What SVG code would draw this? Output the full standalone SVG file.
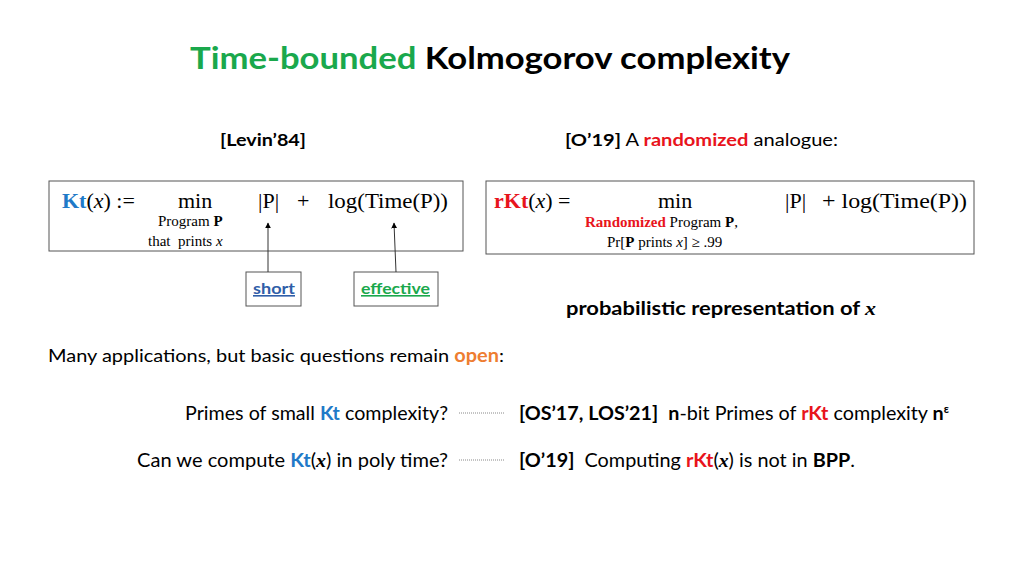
<svg xmlns="http://www.w3.org/2000/svg" width="1024" height="576" viewBox="0 0 1024 576">
<style>
.s{font-family:Lato,"Liberation Sans",sans-serif;fill:#000}
.m{font-family:"Liberation Serif",serif;fill:#000}
.b{font-weight:bold}
.blue{fill:#1f7ac8}.red{fill:#e8141c}.green{fill:#1aa84c}.orange{fill:#ee7d31}
.box{fill:#fff;stroke:#555;stroke-width:1}
.dot{stroke:#888;stroke-width:1;stroke-dasharray:1 1}
</style>
<defs><marker id="a" viewBox="0 0 10 10" refX="9" refY="5" markerWidth="6" markerHeight="6" orient="auto"><path d="M0,0L10,5L0,10z" fill="#000"/></marker></defs>
<text class="s b" x="190" y="69" font-size="31" textLength="600" lengthAdjust="spacingAndGlyphs"><tspan class="green">Time-bounded</tspan> Kolmogorov complexity</text>
<text class="s b" x="220" y="146" font-size="17" textLength="86" lengthAdjust="spacingAndGlyphs">[Levin’84]</text>
<text class="s" x="565" y="146" font-size="17" textLength="273" lengthAdjust="spacingAndGlyphs"><tspan class="b">[O’19]</tspan> A <tspan class="b red">randomized</tspan> analogue:</text>
<g id="kt">
<rect class="box" x="49" y="181" width="414" height="70"/>
<text class="m" x="62" y="208" font-size="22"><tspan class="b blue">Kt</tspan>(<tspan font-style="italic">x</tspan>) :=</text>
<text class="m" x="178" y="208" font-size="22">min</text>
<text class="m" x="258" y="208" font-size="22">|P|</text>
<text class="m" x="297" y="208" font-size="22">+</text>
<text class="m" x="328" y="208" font-size="22" textLength="120" lengthAdjust="spacingAndGlyphs">log(Time(P))</text>
<text class="m" x="158" y="226" font-size="15">Program <tspan class="b">P</tspan></text>
<text class="m" x="148" y="246" font-size="15" xml:space="preserve">that  prints <tspan font-style="italic">x</tspan></text>
</g>
<g id="rkt">
<rect class="box" x="486" y="181" width="488" height="73"/>
<text class="m" x="494" y="208" font-size="22"><tspan class="b red">rKt</tspan>(<tspan font-style="italic">x</tspan>) =</text>
<text class="m" x="658" y="208" font-size="22">min</text>
<text class="m" x="785" y="208" font-size="22">|P|</text>
<text class="m" x="822" y="208" font-size="22" textLength="145" lengthAdjust="spacingAndGlyphs">+ log(Time(P))</text>
<text class="m" x="585" y="227" font-size="15"><tspan class="b red">Randomized</tspan> Program <tspan class="b">P</tspan>,</text>
<text class="m" x="607" y="247" font-size="15">Pr[<tspan class="b">P</tspan> prints <tspan font-style="italic">x</tspan>] ≥ .99</text>
</g>
<g id="short"><rect class="box" x="246" y="272" width="55" height="34"/><text class="s b" x="253" y="294" font-size="16" style="fill:#2f5ea8" text-decoration="underline" textLength="42" lengthAdjust="spacingAndGlyphs">short</text></g>
<g id="effective"><rect class="box" x="354" y="272" width="84" height="34"/><text class="s b green" x="361" y="294" font-size="16" text-decoration="underline" textLength="69" lengthAdjust="spacingAndGlyphs">effective</text></g>
<g id="connectors">
<line x1="268" y1="272" x2="268" y2="223" stroke="#333" marker-end="url(#a)"/>
<line x1="396" y1="272" x2="394" y2="223" stroke="#333" marker-end="url(#a)"/>
<line class="dot" x1="459" y1="413" x2="504" y2="413"/>
<line class="dot" x1="459" y1="460" x2="504" y2="460"/>
</g>
<text class="s b" x="566" y="315" font-size="19" textLength="310" lengthAdjust="spacingAndGlyphs">probabilistic representation of <tspan class="m" font-style="italic">x</tspan></text>
<text class="s" x="48" y="362" font-size="18" textLength="456" lengthAdjust="spacingAndGlyphs">Many applications, but basic questions remain <tspan class="b orange">open</tspan>:</text>
<text class="s" x="185" y="420" font-size="19" textLength="263" lengthAdjust="spacingAndGlyphs">Primes of small <tspan class="b blue">Kt</tspan> complexity?</text>
<text class="s" x="137" y="467" font-size="19" textLength="311" lengthAdjust="spacingAndGlyphs">Can we compute <tspan class="b blue">Kt</tspan>(<tspan class="m b" font-style="italic">x</tspan>) in poly time?</text>
<text class="s" x="519" y="420" font-size="19" textLength="430" lengthAdjust="spacingAndGlyphs" xml:space="preserve"><tspan class="b">[OS’17, LOS’21]</tspan>  <tspan class="b">n</tspan>-bit Primes of <tspan class="b red">rKt</tspan> complexity <tspan class="b">n</tspan><tspan class="b" font-size="11" dy="-7">ε</tspan></text>
<text class="s" x="519" y="467" font-size="19" textLength="336" lengthAdjust="spacingAndGlyphs" xml:space="preserve"><tspan class="b">[O’19]</tspan>  Computing <tspan class="b red">rKt</tspan>(<tspan class="m b" font-style="italic">x</tspan>) is not in <tspan class="b">BPP</tspan>.</text>
</svg>
